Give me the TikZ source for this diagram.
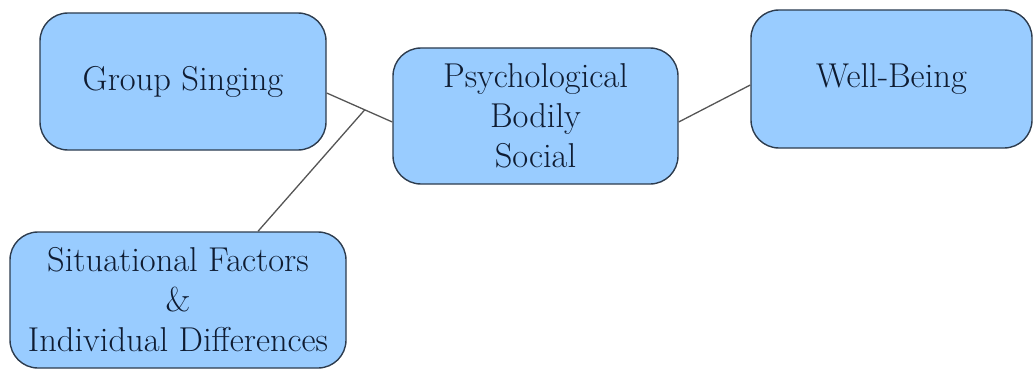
\documentclass[tikz,border=0pt]{standalone}
\usepackage{fontspec}
\usetikzlibrary{calc}
\definecolor{boxfill}{RGB}{153,204,255}
\definecolor{boxline}{RGB}{45,60,78}
\definecolor{txt}{RGB}{15,28,50}
\definecolor{conn}{RGB}{85,85,85}
\tikzset{
  card/.style={draw=boxline, line width=1.4pt, fill=boxfill, rounded corners=28pt,
    text=txt, align=center, inner sep=0pt,
    font=\rmfamily\fontsize{34.5}{40}\selectfont},
  link/.style={draw=conn, line width=1.3pt}
}
\begin{document}
\begin{tikzpicture}[x=1pt,y=-1pt]
\useasboundingbox (0,0) rectangle (1033,369);
\node[card, minimum width=286pt, minimum height=137pt] (gs) at (183,81.5) {Group Singing};
\node[card, minimum width=285pt, minimum height=136pt] (mid) at (535.5,116) {Psychological\\Bodily\\Social};
\node[card, minimum width=281pt, minimum height=138pt] (wb) at (891.5,79) {Well-Being};
\node[card, minimum width=336pt, minimum height=136pt] (sf) at (178,300) {Situational Factors\\\&\\Individual Differences};
\coordinate (gsout) at ([yshift=-11.5pt]gs.east);
\coordinate (midin) at ([yshift=-6pt]mid.west);
\coordinate (j) at ($(gsout)!0.58!(midin)$);
\draw[link] (gsout) -- (midin);
\draw[link] ([xshift=80pt]sf.north) -- (j);
\draw[link] ([yshift=-6pt]mid.east) -- ([yshift=-6pt]wb.west);
\end{tikzpicture}
\end{document}
